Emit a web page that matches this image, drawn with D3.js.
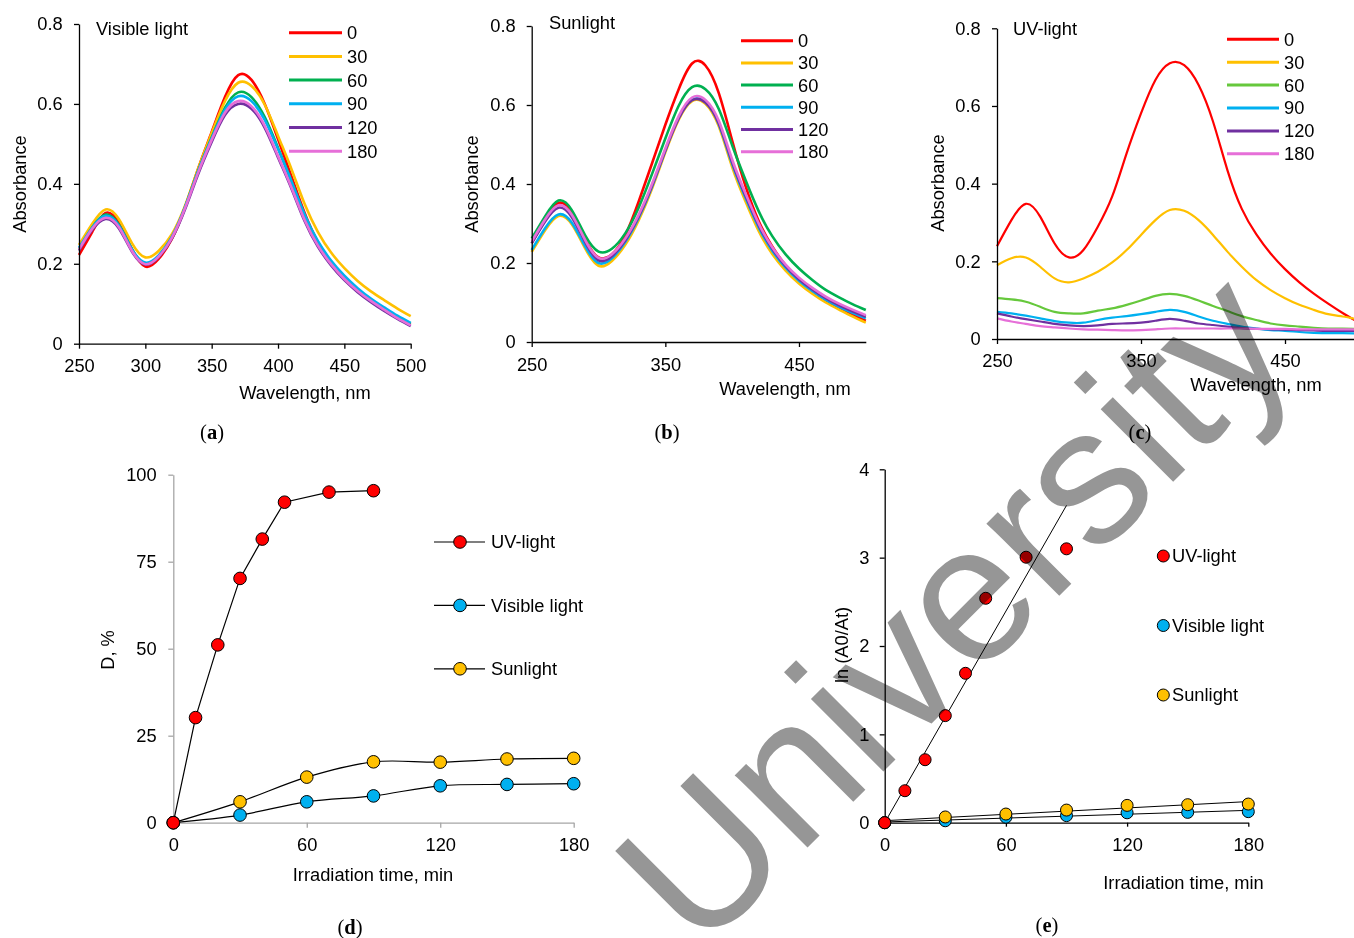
<!DOCTYPE html>
<html><head><meta charset="utf-8">
<script src="https://cdn.jsdelivr.net/npm/d3@7"></script>
<style>
body{margin:0;background:#fff;}
svg{display:block;font-family:"Liberation Sans",Arial,sans-serif;}
</style></head><body>
<svg id="chart" width="1354" height="938"></svg>
<script>
// ---------- DATA ----------
const wavelengths = [250,260,270,280,290,300,310,320,330,340,350,360,370,380,390,400,410,420,430,440,450,460,470,480,490,500];
const timeLabels = ["0","30","60","90","120","180"];
const absTicks = [0,0.2,0.4,0.6,0.8];

// (a) Visible light
const vis0   = [.222,.280,.327,.302,.236,.193,.212,.262,.342,.440,.530,.617,.672,.660,.600,.512,.420,.328,.255,.204,.165,.134,.109,.087,.066,.047];
const vis30  = [.247,.300,.336,.312,.251,.216,.232,.274,.346,.440,.527,.607,.653,.645,.598,.520,.438,.350,.280,.228,.189,.157,.131,.109,.088,.069];
const vis60  = [.237,.291,.323,.298,.236,.200,.219,.266,.342,.434,.516,.590,.629,.617,.567,.490,.407,.321,.253,.204,.166,.135,.110,.088,.068,.050];
const vis90  = [.240,.291,.320,.296,.236,.203,.221,.267,.342,.433,.514,.585,.619,.607,.560,.487,.408,.324,.257,.208,.170,.139,.113,.091,.070,.052];
const vis120 = [.233,.285,.312,.289,.230,.198,.217,.263,.337,.426,.505,.572,.600,.588,.540,.466,.389,.307,.243,.196,.159,.129,.104,.082,.062,.044];
const vis180 = [.236,.288,.315,.292,.232,.199,.218,.265,.340,.430,.510,.578,.607,.594,.545,.470,.392,.310,.246,.199,.162,.132,.107,.085,.064,.046];

// (b) Sunlight
const sun0   = [.250,.310,.352,.328,.260,.214,.222,.270,.355,.452,.550,.640,.705,.700,.630,.510,.395,.305,.242,.194,.158,.129,.106,.087,.070,.054];
const sun30  = [.228,.283,.319,.298,.237,.193,.205,.246,.308,.388,.480,.563,.610,.603,.546,.443,.356,.280,.223,.181,.148,.122,.100,.082,.065,.049];
const sun60  = [.262,.318,.358,.334,.270,.229,.236,.275,.340,.425,.515,.598,.645,.640,.590,.498,.410,.330,.268,.222,.186,.157,.132,.113,.096,.081];
const sun90  = [.233,.288,.323,.302,.242,.200,.212,.253,.314,.393,.485,.567,.613,.607,.552,.451,.365,.289,.231,.188,.155,.129,.107,.089,.074,.060];
const sun120 = [.250,.305,.340,.316,.253,.207,.217,.257,.317,.395,.485,.566,.612,.606,.553,.455,.370,.294,.236,.192,.159,.133,.111,.093,.078,.064];
const sun180 = [.254,.310,.346,.322,.258,.213,.222,.262,.322,.400,.490,.572,.619,.613,.560,.462,.376,.299,.240,.196,.163,.137,.115,.097,.082,.068];

// (c) UV-light
const uv0   = [.239,.306,.348,.315,.246,.210,.229,.289,.367,.478,.581,.667,.710,.705,.654,.560,.435,.335,.270,.220,.180,.146,.117,.091,.067,.045];
const uv30  = [.190,.208,.210,.186,.156,.146,.156,.173,.197,.229,.268,.306,.332,.330,.306,.268,.225,.186,.152,.126,.105,.088,.075,.064,.058,.051];
const uv60  = [.105,.102,.096,.083,.070,.066,.066,.073,.079,.088,.099,.111,.116,.111,.099,.085,.072,.059,.049,.040,.035,.032,.029,.027,.027,.026];
const uv90  = [.070,.066,.060,.053,.046,.042,.042,.049,.055,.059,.064,.070,.075,.070,.058,.047,.039,.032,.027,.023,.021,.018,.016,.015,.015,.014];
const uv120 = [.066,.058,.051,.045,.039,.035,.033,.035,.039,.040,.042,.047,.052,.047,.040,.036,.032,.028,.026,.025,.024,.023,.022,.021,.021,.021];
const uv180 = [.053,.045,.039,.033,.030,.027,.025,.024,.023,.022,.023,.025,.027,.027,.027,.027,.027,.027,.026,.026,.026,.025,.025,.025,.025,.025];

// (d) Degradation, %
const timesUV  = [0,10,20,30,40,50,70,90];
const timesLS  = [0,30,60,90,120,150,180];
const degUV      = [0,30.2,51.1,70.2,81.5,92.1,95.0,95.4];
const degVisible = [0,2.2,6.0,7.7,10.6,11.0,11.2];
const degSun     = [0,6.0,13.1,17.5,17.4,18.3,18.5];

// (e) ln(A0/At)
const lnUV      = [0,0.362,0.713,1.212,1.691,2.54,3.005,3.10];
const lnVisible = [0,0.022,0.062,0.080,0.112,0.117,0.125];
const lnSun     = [0,0.065,0.098,0.143,0.196,0.204,0.211];

const seriesNames = ["UV-light","Visible light","Sunlight"];
const timeTicks = [0,60,120,180];

// ---------- STYLE ----------
const colorsAB = ["#FF0000","#FFC000","#00B050","#00B0F0","#7030A0","#E66FD8"];
const colorsC  = ["#FF0000","#FFC000","#66C83C","#00B0F0","#7030A0","#E66FD8"];
const markerColors = ["#FF0000","#00B0F0","#FFC000"];
const FS = 18.3;
const FONT = "'Liberation Sans', Arial, sans-serif";
const SERIF = "'Liberation Serif', 'DejaVu Serif', serif";

const svg = d3.select("#chart");
svg.append("rect").attr("width",1354).attr("height",938).attr("fill","#fff");

function styleAxis(g, color){
  g.attr("font-size",null).attr("font-family",null);
  g.selectAll("path.domain").attr("stroke",color).attr("stroke-width",1.3);
  g.selectAll(".tick line").attr("stroke",color).attr("stroke-width",1.3);
  g.selectAll(".tick text").attr("fill","#000").attr("font-size",FS).attr("font-family",FONT);
}
function label(x,y,txt,opts={}){
  const t = svg.append("text").attr("x",x).attr("y",y).attr("dy","0.35em")
    .attr("font-size",opts.fs||FS).attr("font-family",opts.ff||FONT)
    .attr("text-anchor",opts.anchor||"start").attr("fill","#000");
  if(opts.rotate){ t.attr("transform",`rotate(-90,${x},${y})`); }
  t.text(txt);
  return t;
}
function letter(x,y,ch){
  const t = svg.append("text").attr("x",x).attr("y",y).attr("dy","0.35em")
    .attr("font-size",20.5).attr("font-family",SERIF).attr("text-anchor","middle").attr("fill","#000");
  t.append("tspan").text("(");
  t.append("tspan").attr("font-weight","bold").text(ch);
  t.append("tspan").text(")");
}

// ---------- SPECTRA PANELS ----------
const spectraPanels = [
  {series:[vis0,vis30,vis60,vis90,vis120,vis180], colors:colorsAB, xr:[79,410.7], yr:[343.7,24],
   xticks:[250,300,350,400,450,500], xpad:10.8, ypad:11.3, lw:2.6,
   title:"Visible light", tx:96, ty:29, lx0:289, lx1:342, ltx:347, ly0:32.7, ldy:23.7,
   ylx:19.5, yly:184, xlx:305, xly:393, lt:"a", ltX:212, ltY:432},
  {series:[sun0,sun30,sun60,sun90,sun120,sun180], colors:colorsAB, xr:[531.7,865.8], yr:[342,26],
   xticks:[250,350,450], xpad:11.5, ypad:11, lw:2.6,
   title:"Sunlight", tx:549, ty:23, lx0:741, lx1:793, ltx:798, ly0:40.7, ldy:22.2,
   ylx:472, yly:184, xlx:785, xly:389, lt:"b", ltX:667, ltY:432},
  {series:[uv0,uv30,uv60,uv90,uv120,uv180], colors:colorsC, xr:[997,1357], yr:[339,28.3],
   xticks:[250,350,450], xpad:10.5, ypad:11.3, lw:2.2,
   title:"UV-light", tx:1013, ty:29, lx0:1227, lx1:1279, ltx:1284, ly0:39.3, ldy:22.9,
   ylx:937.5, yly:183, xlx:1256, xly:385, lt:"c", ltX:1140, ltY:432}
];

spectraPanels.forEach(p=>{
  const x = d3.scaleLinear().domain([250,500]).range(p.xr);
  const y = d3.scaleLinear().domain([0,0.8]).range(p.yr);
  const line = d3.line().x((d,i)=>x(wavelengths[i])).y(d=>y(d)).curve(d3.curveNatural);
  p.series.forEach((s,k)=>{
    svg.append("path").attr("d",line(s)).attr("fill","none")
      .attr("stroke",p.colors[k]).attr("stroke-width",p.lw).attr("stroke-linejoin","round");
  });
  svg.append("g").attr("transform",`translate(0,${p.yr[0]})`)
    .call(d3.axisBottom(x).tickValues(p.xticks).tickFormat(d3.format("d")).tickSize(5).tickSizeOuter(0).tickPadding(p.xpad))
    .call(styleAxis,"#000");
  svg.append("g").attr("transform",`translate(${p.xr[0]},0)`)
    .call(d3.axisLeft(y).tickValues(absTicks).tickFormat(d=>d===0?"0":d3.format(".1f")(d)).tickSize(5).tickSizeOuter(0).tickPadding(p.ypad))
    .call(styleAxis,"#000");
  timeLabels.forEach((t,k)=>{
    const yy = p.ly0 + k*p.ldy;
    svg.append("line").attr("x1",p.lx0).attr("x2",p.lx1).attr("y1",yy).attr("y2",yy)
      .attr("stroke",p.colors[k]).attr("stroke-width",3);
    label(p.ltx,yy,t);
  });
  label(p.tx,p.ty,p.title);
  label(p.ylx,p.yly,"Absorbance",{anchor:"middle",rotate:true});
  label(p.xlx,p.xly,"Wavelength, nm",{anchor:"middle"});
  letter(p.ltX,p.ltY,p.lt);
});

// ---------- PANEL D ----------
(function(){
  const x = d3.scaleLinear().domain([0,180]).range([173.3,573.7]);
  const y = d3.scaleLinear().domain([0,100]).range([822.7,474.7]);
  svg.append("g").attr("transform","translate(0,822.7)")
    .call(d3.axisBottom(x).tickValues(timeTicks).tickSize(5).tickSizeOuter(0).tickPadding(10.8))
    .call(styleAxis,"#A6A6A6");
  svg.append("g").attr("transform","translate(173.3,0)")
    .call(d3.axisLeft(y).tickValues([0,25,50,75,100]).tickSize(5).tickSizeOuter(0).tickPadding(11.6))
    .call(styleAxis,"#A6A6A6");
  const sets = [[timesUV,degUV,d3.curveLinear],[timesLS,degVisible,d3.curveCatmullRom.alpha(0.5)],[timesLS,degSun,d3.curveCatmullRom.alpha(0.5)]];
  sets.forEach(([t,v,c])=>{
    const line = d3.line().curve(c);
    svg.append("path").attr("d",line(t.map((d,i)=>[x(d),y(v[i])]))).attr("fill","none")
      .attr("stroke","#000").attr("stroke-width",1.2);
  });
  [[timesLS,degVisible,1],[timesLS,degSun,2],[timesUV,degUV,0]].forEach(([t,v,k])=>{
    svg.append("g").selectAll("circle").data(t).join("circle")
      .attr("cx",d=>x(d)).attr("cy",(d,i)=>y(v[i])).attr("r",6.3)
      .attr("fill",markerColors[k]).attr("stroke","#000").attr("stroke-width",1);
  });
  seriesNames.forEach((n,k)=>{
    const yy = 542 + k*63.4;
    svg.append("line").attr("x1",434).attr("x2",485).attr("y1",yy).attr("y2",yy).attr("stroke","#000").attr("stroke-width",1.2);
    svg.append("circle").attr("cx",460).attr("cy",yy).attr("r",6.3).attr("fill",markerColors[k]).attr("stroke","#000");
    label(491,yy,n);
  });
  label(108,650,"D, %",{anchor:"middle",rotate:true});
  label(373,875,"Irradiation time, min",{anchor:"middle"});
  letter(350,927,"d");
})();

// ---------- PANEL E ----------
(function(){
  const x = d3.scaleLinear().domain([0,180]).range([884.7,1248.3]);
  const y = d3.scaleLinear().domain([0,4]).range([822.7,469.3]);
  svg.append("g").attr("transform","translate(0,822.7)")
    .call(d3.axisBottom(x).tickValues(timeTicks).tickSize(4).tickSizeOuter(0).tickPadding(11.8))
    .call(styleAxis,"#000");
  svg.append("g").attr("transform","translate(884.7,0)")
    .call(d3.axisLeft(y).tickValues([0,1,2,3,4]).tickFormat(d3.format("d")).tickSize(5).tickSizeOuter(0).tickPadding(10.4))
    .call(styleAxis,"#000");
  function fit(t,v,origin){
    if(origin){
      const s = d3.sum(t,(d,i)=>d*v[i]) / d3.sum(t,d=>d*d);
      return {a:s,b:0};
    }
    const mt=d3.mean(t), mv=d3.mean(v);
    const s = d3.sum(t,(d,i)=>(d-mt)*(v[i]-mv)) / d3.sum(t,d=>(d-mt)*(d-mt));
    return {a:s,b:mv-s*mt};
  }
  const sets = [[timesUV,lnUV,true],[timesLS,lnVisible,false],[timesLS,lnSun,false]];
  sets.forEach(([t,v,o])=>{
    const f = fit(t,v,o);
    const t0=d3.min(t), t1=d3.max(t);
    svg.append("line").attr("x1",x(t0)).attr("y1",y(f.a*t0+f.b)).attr("x2",x(t1)).attr("y2",y(f.a*t1+f.b))
      .attr("stroke","#000").attr("stroke-width",1);
  });
  [[timesLS,lnVisible,1],[timesLS,lnSun,2],[timesUV,lnUV,0]].forEach(([t,v,k])=>{
    svg.append("g").selectAll("circle").data(t).join("circle")
      .attr("cx",d=>x(d)).attr("cy",(d,i)=>y(v[i])).attr("r",6)
      .attr("fill",markerColors[k]).attr("stroke","#000").attr("stroke-width",1);
  });
  seriesNames.forEach((n,k)=>{
    const yy = 556 + k*69.5;
    svg.append("circle").attr("cx",1163.3).attr("cy",yy).attr("r",6).attr("fill",markerColors[k]).attr("stroke","#000");
    label(1172,yy,n);
  });
  label(842,645,"ln (A0/At)",{anchor:"middle",rotate:true});
  label(1183.5,883,"Irradiation time, min",{anchor:"middle"});
  letter(1047,925,"e");
})();

// ---------- WATERMARK ----------
svg.append("text").attr("transform","translate(699,956) rotate(-45)")
  .attr("font-size",194).attr("font-family",FONT).attr("fill","#969696")
  .style("mix-blend-mode","multiply").text("University");
</script>
</body></html>
